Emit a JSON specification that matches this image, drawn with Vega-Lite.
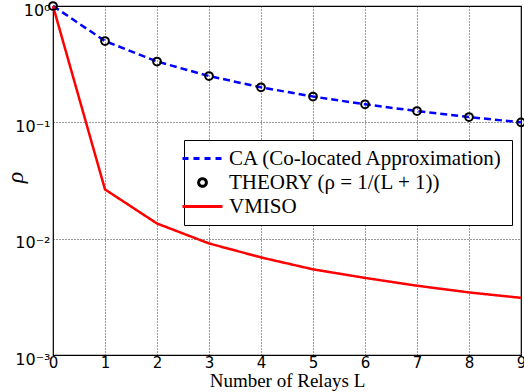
{
  "$schema": "https://vega.github.io/schema/vega-lite/v6.json",
  "width": 468,
  "height": 349,
  "autosize": "none",
  "padding": {"left": 53, "top": 6, "right": 3, "bottom": 37},
  "background": "white",
  "config": {
    "view": {"stroke": "black", "strokeWidth": 1.2},
    "axis": {
      "domain": false,
      "ticks": false,
      "grid": true,
      "gridColor": "black",
      "gridDash": [1, 2],
      "gridWidth": 0.8,
      "gridOpacity": 1,
      "labelFont": "DejaVu Sans",
      "labelFontSize": 16,
      "labelColor": "black",
      "labelFlush": false,
      "labelOverlap": false,
      "titleColor": "black",
      "titleFontWeight": "normal"
    }
  },
  "data": {
    "values": [
      {"L": 0, "rho": 1.0, "series": "CA (Co-located Approximation)"},
      {"L": 1, "rho": 0.5, "series": "CA (Co-located Approximation)"},
      {"L": 2, "rho": 0.3333, "series": "CA (Co-located Approximation)"},
      {"L": 3, "rho": 0.25, "series": "CA (Co-located Approximation)"},
      {"L": 4, "rho": 0.2, "series": "CA (Co-located Approximation)"},
      {"L": 5, "rho": 0.1667, "series": "CA (Co-located Approximation)"},
      {"L": 6, "rho": 0.1429, "series": "CA (Co-located Approximation)"},
      {"L": 7, "rho": 0.125, "series": "CA (Co-located Approximation)"},
      {"L": 8, "rho": 0.1111, "series": "CA (Co-located Approximation)"},
      {"L": 9, "rho": 0.1, "series": "CA (Co-located Approximation)"},
      {"L": 0, "rho": 1.0, "series": "THEORY (ρ = 1/(L + 1))"},
      {"L": 1, "rho": 0.5, "series": "THEORY (ρ = 1/(L + 1))"},
      {"L": 2, "rho": 0.3333, "series": "THEORY (ρ = 1/(L + 1))"},
      {"L": 3, "rho": 0.25, "series": "THEORY (ρ = 1/(L + 1))"},
      {"L": 4, "rho": 0.2, "series": "THEORY (ρ = 1/(L + 1))"},
      {"L": 5, "rho": 0.1667, "series": "THEORY (ρ = 1/(L + 1))"},
      {"L": 6, "rho": 0.1429, "series": "THEORY (ρ = 1/(L + 1))"},
      {"L": 7, "rho": 0.125, "series": "THEORY (ρ = 1/(L + 1))"},
      {"L": 8, "rho": 0.1111, "series": "THEORY (ρ = 1/(L + 1))"},
      {"L": 9, "rho": 0.1, "series": "THEORY (ρ = 1/(L + 1))"},
      {"L": 0, "rho": 1.0, "series": "VMISO"},
      {"L": 1, "rho": 0.0265, "series": "VMISO"},
      {"L": 2, "rho": 0.0135, "series": "VMISO"},
      {"L": 3, "rho": 0.0091, "series": "VMISO"},
      {"L": 4, "rho": 0.0069, "series": "VMISO"},
      {"L": 5, "rho": 0.00545, "series": "VMISO"},
      {"L": 6, "rho": 0.0046, "series": "VMISO"},
      {"L": 7, "rho": 0.00394, "series": "VMISO"},
      {"L": 8, "rho": 0.00345, "series": "VMISO"},
      {"L": 9, "rho": 0.0031, "series": "VMISO"}
    ]
  },
  "encoding": {
    "x": {
      "field": "L",
      "type": "quantitative",
      "scale": {"domain": [0, 9], "nice": false},
      "axis": {
        "values": [0, 1, 2, 3, 4, 5, 6, 7, 8, 9],
        "labelPadding": 0,
        "labelFontSize": 15,
        "title": "Number of Relays L",
        "titleFont": "Liberation Serif",
        "titleFontSize": 19,
        "titleY": 31,
        "titleBaseline": "alphabetic"
      }
    },
    "y": {
      "field": "rho",
      "type": "quantitative",
      "scale": {"type": "log", "domain": [0.001, 1], "nice": false},
      "axis": {
        "values": [0.001, 0.01, 0.1, 1],
        "labelExpr": "datum.value == 1 ? '10⁰' : datum.value == 0.1 ? '10⁻¹' : datum.value == 0.01 ? '10⁻²' : '10⁻³'",
        "labelPadding": 3,
        "labelOffset": 4,
        "title": "ρ",
        "titleFont": "Liberation Serif",
        "titleFontStyle": "italic",
        "titleFontSize": 24,
        "titleX": -38,
        "titleY": 171,
        "titleAngle": 270,
        "titleAlign": "center",
        "titleBaseline": "middle"
      }
    }
  },
  "layer": [
    {
      "transform": [{"filter": {"not": {"field": "series", "equal": "THEORY (ρ = 1/(L + 1))"}}}],
      "mark": {"type": "line", "strokeWidth": 2.5},
      "encoding": {
        "color": {
          "field": "series",
          "type": "nominal",
          "scale": {
            "domain": ["CA (Co-located Approximation)", "THEORY (ρ = 1/(L + 1))", "VMISO"],
            "range": ["#0000ff", "#000000", "#ff0000"]
          },
          "legend": {
            "orient": "none",
            "legendX": 131,
            "legendY": 134,
            "title": null,
            "fillColor": "white",
            "strokeColor": "black",
            "padding": 8,
            "cornerRadius": 0,
            "labelFont": "Liberation Serif",
            "labelFontSize": 21,
            "labelColor": "black",
            "labelOffset": 16,
            "labelLimit": 400,
            "symbolSize": 1600,
            "symbolOpacity": 1,
            "rowPadding": 2,
            "encode": {
              "symbols": {
                "update": {
                  "shape": {"signal": "datum.value == 'VMISO' || datum.value == 'CA (Co-located Approximation)' ? 'stroke' : 'circle'"},
                  "size": {"signal": "datum.value == 'VMISO' || datum.value == 'CA (Co-located Approximation)' ? 1600 : 60"},
                  "stroke": {"signal": "datum.value == 'VMISO' ? '#ff0000' : datum.value == 'CA (Co-located Approximation)' ? '#0000ff' : '#000000'"},
                  "strokeWidth": {"value": 3},
                  "strokeDash": {"signal": "datum.value == 'CA (Co-located Approximation)' ? [6, 5] : [1, 0]"},
                  "fill": {"value": "transparent"},
                  "opacity": {"value": 1}
                }
              }
            }
          }
        },
        "strokeDash": {
          "field": "series",
          "type": "nominal",
          "scale": {"domain": ["CA (Co-located Approximation)", "VMISO"], "range": [[7, 4], [1, 0]]},
          "legend": null
        }
      }
    },
    {
      "transform": [{"filter": {"field": "series", "equal": "THEORY (ρ = 1/(L + 1))"}}],
      "mark": {"type": "point", "size": 60, "strokeWidth": 2, "filled": false, "opacity": 1},
      "encoding": {
        "color": {"field": "series", "type": "nominal"}
      }
    }
  ]
}
